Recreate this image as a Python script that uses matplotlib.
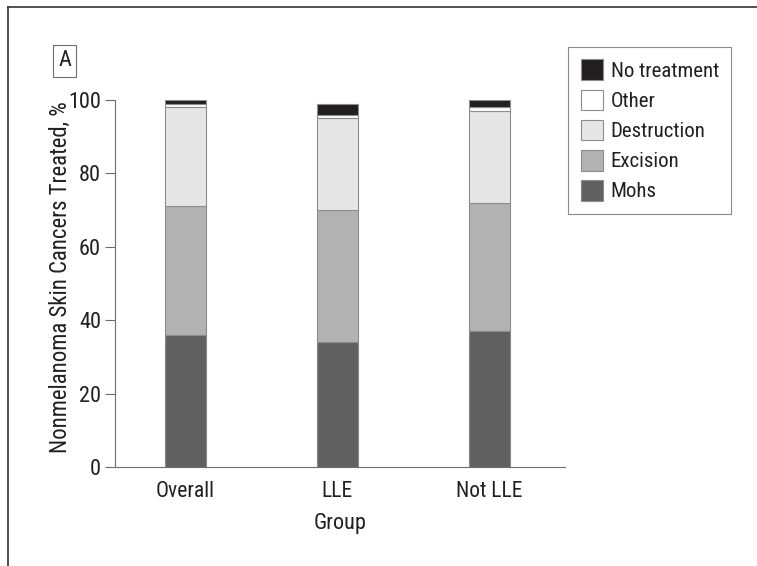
import matplotlib.pyplot as plt
from matplotlib.patches import Patch
from matplotlib.lines import Line2D

plt.rcParams['font.family'] = ['Roboto Condensed', 'DejaVu Sans']

groups = ['Overall', 'LLE', 'Not LLE']
mohs = [36, 34, 37]
excision = [35, 36, 35]
destruction = [27, 25, 25]
other = [1, 1, 1]
no_treatment = [1, 3, 2]

labels = ['Mohs', 'Excision', 'Destruction', 'Other', 'No treatment']
colors = ['#606060', '#b2b2b2', '#e6e6e7', '#ffffff', '#231f20']
series = [mohs, excision, destruction, other, no_treatment]

txt = '#231f20'
fig = plt.figure(figsize=(7.57, 5.66), dpi=100)
ax = fig.add_axes([115/757, 1 - 467/566, 450/757, 367/566])

x = range(len(groups))
bottom = [0, 0, 0]
for vals, col in zip(series, colors):
    ax.bar(x, vals, width=0.27, bottom=bottom, color=col,
           edgecolor='#8c8c8c', linewidth=0.8)
    bottom = [b + v for b, v in zip(bottom, vals)]

ax.set_xlim(-0.464, 2.497)
ax.set_ylim(0, 100)
ax.set_yticks([0, 20, 40, 60, 80, 100])
ax.set_xticks(list(x))
ax.set_xticklabels(groups)
ax.tick_params(axis='y', length=7, width=0.8, color='#6d6d6d', labelsize=16, labelcolor=txt, pad=3)
ax.tick_params(axis='x', length=0, labelsize=15.5, labelcolor=txt, pad=10)
for s in ['top', 'right']:
    ax.spines[s].set_visible(False)
for s in ['left', 'bottom']:
    ax.spines[s].set_color('#6d6d6d')
    ax.spines[s].set_linewidth(0.8)

ax.set_xlabel('Group', fontsize=16, color=txt, labelpad=8)
ax.set_ylabel('Nonmelanoma Skin Cancers Treated, %', fontsize=16.4, color=txt)
ax.yaxis.set_label_coords(-0.096, 0.518)

handles = [Patch(facecolor=c, edgecolor='#8c8c8c', linewidth=0.8, label=l)
           for l, c in zip(labels, colors)][::-1]
leg = fig.legend(handles=handles, loc='upper left',
                 bbox_to_anchor=(568/757, 1 - 47/566), fontsize=15,
                 frameon=True, fancybox=False, edgecolor='#6d6d6d',
                 handlelength=1.1, handleheight=1.15, handletextpad=0.35,
                 labelspacing=0.42, borderpad=0.6, borderaxespad=0)
leg.get_frame().set_linewidth(0.8)
for t in leg.get_texts():
    t.set_color(txt)

# panel letter
fig.text(64.5/757, 1 - 61/566, 'A', fontsize=16, color=txt, ha='center', va='center',
         bbox=dict(boxstyle='square,pad=0.25', facecolor='white', edgecolor='#6d6d6d', linewidth=0.8))

# outer frame, cut off on right and bottom
fig.add_artist(Line2D([8/757, 1], [1 - 7/566, 1 - 7/566], transform=fig.transFigure, color='#333333', lw=1.2))
fig.add_artist(Line2D([8/757, 8/757], [0, 1 - 7/566], transform=fig.transFigure, color='#333333', lw=1.2))

fig.savefig('out.png', dpi=100)
